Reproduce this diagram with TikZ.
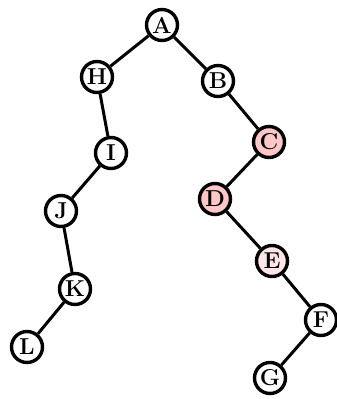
\documentclass[tikz,border=0pt]{standalone}
\begin{document}
\begin{tikzpicture}[x=1pt,y=-1pt,
  tn/.style={circle,draw=black,line width=3.4pt,fill=white,minimum size=31pt,inner sep=0pt,
    font=\bfseries\fontsize{23}{24}\selectfont},
  pinkA/.style={fill=red!22},
  pinkB/.style={fill=red!10},
  edge/.style={line width=3pt,draw=black}]
\useasboundingbox (0,0) rectangle (337,399);
\node[tn] (A) at (162,25) {A};
\node[tn] (H) at (97,77) {H};
\node[tn] (B) at (218,81) {B};
\node[tn] (I) at (111,153) {I};
\node[tn,pinkA] (C) at (269,142) {C};
\node[tn] (J) at (61,211) {J};
\node[tn,pinkA] (D) at (215,199) {D};
\node[tn,pinkB] (E) at (272,261) {E};
\node[tn] (K) at (75,289) {K};
\node[tn] (F) at (321,320) {F};
\node[tn] (L) at (27,347) {L};
\node[tn] (G) at (270,378) {G};
\draw[edge] (A) -- (H);
\draw[edge] (A) -- (B);
\draw[edge] (H) -- (I);
\draw[edge] (I) -- (J);
\draw[edge] (J) -- (K);
\draw[edge] (K) -- (L);
\draw[edge] (B) -- (C);
\draw[edge] (C) -- (D);
\draw[edge] (D) -- (E);
\draw[edge] (E) -- (F);
\draw[edge] (F) -- (G);
\end{tikzpicture}
\end{document}
